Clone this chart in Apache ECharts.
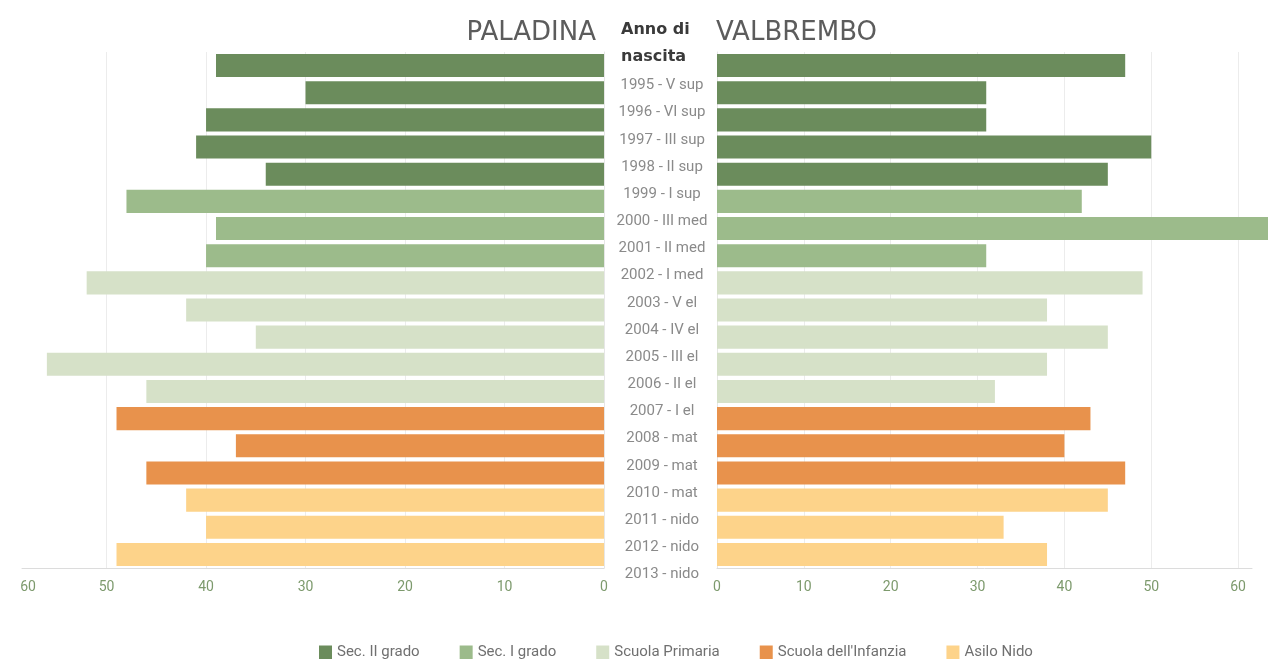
<!DOCTYPE html>
<html><head><meta charset="utf-8">
<script src="https://cdn.jsdelivr.net/npm/echarts@6/dist/echarts.min.js"></script>
<style>html,body{margin:0;padding:0;background:#fff}#c{width:1268px;height:659px}</style>
</head><body><div id="c"></div>
<script>
const categories = ['1995 - V sup','1996 - VI sup','1997 - III sup','1998 - II sup','1999 - I sup','2000 - III med','2001 - II med','2002 - I med','2003 - V el','2004 - IV el','2005 - III el','2006 - II el','2007 - I el','2008 - mat','2009 - mat','2010 - mat','2011 - nido','2012 - nido','2013 - nido'];
const paladina = [39,30,40,41,34,48,39,40,52,42,35,56,46,49,37,46,42,40,49];
const valbrembo = [47,31,31,50,45,42,64,31,49,38,45,38,32,43,40,47,45,33,38];
const groups = [0,0,0,0,0,1,1,1,2,2,2,2,2,3,3,3,4,4,4];
const groupNames = ['Sec. II grado','Sec. I grado','Scuola Primaria',"Scuola dell'Infanzia",'Asilo Nido'];
const groupColors = ['#6b8c5c','#9cbb8b','#d6e1c8','#e8924c','#fdd38a'];
const leftTicks = ['0','10','20','30','40','50','60'];
const rightTicks = ['0','10','20','30','40','50','60'];

const FONT = 'Roboto';
const chart = echarts.init(document.getElementById('c'));
const series = [];
groupNames.forEach((name, g) => {
  series.push({
    name, type: 'bar', xAxisIndex: 0, yAxisIndex: 0, stack: 'L',
    barCategoryGap: '15%', itemStyle: { color: groupColors[g] },
    data: paladina.map((v, i) => groups[i] === g ? v : null)
  });
  series.push({
    name, type: 'bar', xAxisIndex: 1, yAxisIndex: 1, stack: 'R', clip: false,
    barCategoryGap: '15%', itemStyle: { color: groupColors[g] },
    data: valbrembo.map((v, i) => groups[i] === g ? v : null)
  });
});

const axisLabelStyle = { color: '#7d9a6d', fontSize: 14, margin: 12, fontFamily: FONT };
chart.setOption({
  animation: false,
  backgroundColor: '#fff',
  textStyle: { fontFamily: FONT },
  title: [
    { text: 'PALADINA', right: 1268 - 596, top: 20, padding: 0,
      textStyle: { fontSize: 26, fontWeight: 'normal', color: '#5c5c5c', fontFamily: 'DejaVu Sans' } },
    { text: 'VALBREMBO', left: 716, top: 20, padding: 0,
      textStyle: { fontSize: 26, fontWeight: 'normal', color: '#5c5c5c', fontFamily: 'DejaVu Sans' } },
    { text: 'Anno di\nnascita', left: 621, top: 16, padding: 0,
      textStyle: { fontSize: 16, fontWeight: 'bold', color: '#3a3a3a', lineHeight: 27, fontFamily: 'DejaVu Sans' } }
  ],
  legend: {
    data: groupNames, top: 640, left: 314, icon: 'rect',
    itemWidth: 13, itemHeight: 14, itemGap: 40,
    textStyle: { color: '#707070', fontSize: 15, fontFamily: FONT }
  },
  grid: [
    { left: 22, right: 1268 - 604, top: 52, bottom: 91 },
    { left: 717, right: 16, top: 52, bottom: 91 },
    { left: 662, width: 1, top: 72, bottom: 71 }
  ],
  xAxis: [
    { type: 'value', gridIndex: 0, inverse: true, min: 0, max: 58.5, interval: 10,
      axisLine: { show: true, lineStyle: { color: '#dcdcdc' } }, axisTick: { show: false },
      axisLabel: Object.assign({}, axisLabelStyle, {
        showMaxLabel: true,
        formatter: (v, i) => i === leftTicks.length - 1 ? '{m|' + leftTicks[i] + '}' : leftTicks[i],
        rich: { m: { padding: [0, 0, 0, 12], color: '#7d9a6d', fontSize: 14, fontFamily: FONT } }
      }),
      splitLine: { show: true, showMaxLine: false, lineStyle: { color: '#ececec' } } },
    { type: 'value', gridIndex: 1, min: 0, max: 61.6, interval: 10,
      axisLine: { show: true, lineStyle: { color: '#dcdcdc' } }, axisTick: { show: false },
      axisLabel: Object.assign({}, axisLabelStyle, { showMaxLabel: false, formatter: (v, i) => rightTicks[i] }),
      splitLine: { show: true, showMaxLine: false, lineStyle: { color: '#ececec' } } },
    { type: 'value', gridIndex: 2, min: 0, max: 1, show: false }
  ],
  yAxis: [
    { type: 'category', gridIndex: 0, inverse: true, data: categories, position: 'right',
      axisLabel: { show: false }, axisTick: { show: false },
      axisLine: { show: true, lineStyle: { color: '#e6e6e6' } } },
    { type: 'category', gridIndex: 1, inverse: true, data: categories, position: 'left',
      axisLabel: { show: false }, axisTick: { show: false },
      axisLine: { show: true, lineStyle: { color: '#e6e6e6' } } },
    { type: 'category', gridIndex: 2, inverse: true, data: categories, position: 'left',
      axisLine: { show: false }, axisTick: { show: false }, splitLine: { show: false },
      axisLabel: { align: 'center', margin: 0, color: '#8a8a8a', fontSize: 15, fontFamily: FONT } }
  ],
  series
});
</script></body></html>
